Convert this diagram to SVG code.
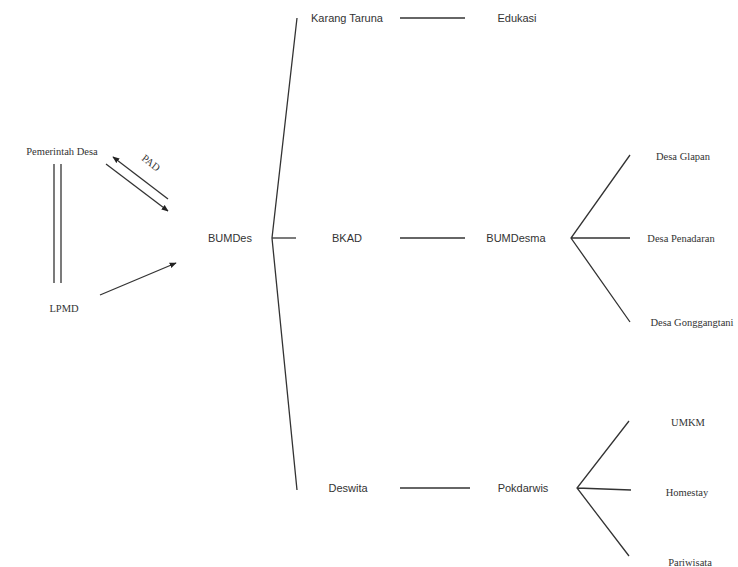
<svg xmlns="http://www.w3.org/2000/svg" width="738" height="567" viewBox="0 0 738 567">
<style>
.s{font-family:"Liberation Sans",Arial,sans-serif;font-size:11px;fill:#333;text-anchor:middle;dominant-baseline:central}
.r{font-family:"Liberation Serif","Times New Roman",serif;font-size:10.5px;fill:#333;text-anchor:middle;dominant-baseline:central}
.l{stroke:#333;stroke-width:1.3;fill:none}
</style>
<defs>
<marker id="ah" viewBox="0 0 10 10" refX="9" refY="5" markerWidth="7" markerHeight="7" orient="auto-start-reverse" markerUnits="userSpaceOnUse"><path d="M0,1 L10,5 L0,9 z" fill="#222"/></marker>
</defs>
<rect width="738" height="567" fill="#fff"/>
<g id="connectors">
<line class="l" x1="54" y1="164" x2="54" y2="283"/>
<line class="l" x1="61" y1="164" x2="61" y2="283"/>
<line class="l" x1="106" y1="164" x2="168" y2="211" marker-end="url(#ah)"/>
<line class="l" x1="168" y1="199" x2="113" y2="157" marker-end="url(#ah)"/>
<line class="l" x1="100" y1="295" x2="176" y2="263" marker-end="url(#ah)"/>
<path class="l" d="M297,18 L272,238 L297,490"/>
<line class="l" x1="272" y1="238" x2="296" y2="238"/>
<line class="l" x1="400" y1="18" x2="465" y2="18"/>
<line class="l" x1="400" y1="238" x2="465" y2="238"/>
<line class="l" x1="400" y1="488" x2="470" y2="488"/>
<path class="l" d="M630,155 L571,238 L630,322 M571,238 L630,238"/>
<path class="l" d="M629,421 L577,488 L629,556 M577,488 L631,490"/>
</g>
<g id="pad"><text class="r" transform="translate(151,163) rotate(38)">PAD</text></g>
<g id="pemerintah"><text class="r" x="62" y="151">Pemerintah Desa</text></g>
<g id="lpmd"><text class="r" x="64" y="308">LPMD</text></g>
<g id="bumdes"><text class="s" x="230" y="238">BUMDes</text></g>
<g id="karang"><text class="s" x="347" y="18">Karang Taruna</text></g>
<g id="edukasi"><text class="s" x="517" y="18">Edukasi</text></g>
<g id="bkad"><text class="s" x="347" y="238">BKAD</text></g>
<g id="bumdesma"><text class="s" x="516" y="238">BUMDesma</text></g>
<g id="deswita"><text class="s" x="348" y="488">Deswita</text></g>
<g id="pokdarwis"><text class="s" x="523" y="488">Pokdarwis</text></g>
<g id="glapan"><text class="r" x="683" y="156">Desa Glapan</text></g>
<g id="penadaran"><text class="r" x="681" y="238">Desa Penadaran</text></g>
<g id="gonggang"><text class="r" x="692" y="322">Desa Gonggangtani</text></g>
<g id="umkm"><text class="r" x="688" y="422">UMKM</text></g>
<g id="homestay"><text class="r" x="687" y="492">Homestay</text></g>
<g id="pariwisata"><text class="r" x="690" y="562">Pariwisata</text></g>
</svg>
